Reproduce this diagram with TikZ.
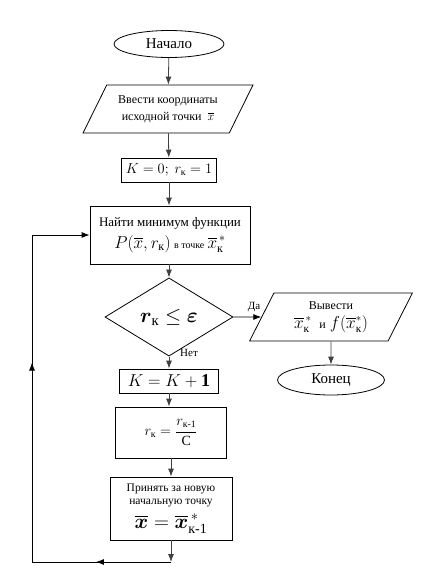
\documentclass[tikz,border=0pt]{standalone}
\usepackage{amsmath}
\usepackage{fontspec}
\setmainfont{Liberation Serif}
\usetikzlibrary{shapes.geometric,arrows.meta,decorations.markings}
\begin{document}
\begin{tikzpicture}[x=1pt,y=-1pt,
  base/.style={draw, line width=0.8pt, align=center, inner sep=1pt, font=\fontsize{12}{15}\selectfont},
  term/.style={base, ellipse, font=\fontsize{15}{17}\selectfont},
  proc/.style={base, rectangle},
  io/.style={base, trapezium, trapezium stretches=true},
  dec/.style={base, diamond},
  conn/.style={-{Latex[length=8pt,width=6pt]}, line width=0.8pt, draw=black!75},
  loopline/.style={line width=0.8pt, draw=black},
  lbl/.style={font=\fontsize{11}{13}\selectfont, inner sep=0pt}
]
\useasboundingbox (0,0) rectangle (435,573);

\node[term, minimum width=110pt, minimum height=27pt] (start) at (169,44) {Начало};
\node[io, minimum width=170pt, minimum height=48pt, trapezium left angle=56, trapezium right angle=124] (in) at (168,109)
  {Ввести координаты\\[2pt]исходной точки \ $\overline{x}$};
\node[proc, minimum width=95pt, minimum height=24pt, font=\fontsize{14}{16}\selectfont] (init) at (169,170)
  {$K=0;\ r_{\text{к}}=1$};
\node[proc, minimum width=160pt, minimum height=58pt, font=\fontsize{13}{15}\selectfont] (find) at (170,235)
  {Найти минимум функции\\[5pt]{\fontsize{17}{19}\selectfont$P(\overline{x},r_{\text{к}})$}\ {\fontsize{10}{12}\selectfont в точке}\ {\fontsize{17}{19}\selectfont$\overline{x}^{\,*}_{\text{к}}$}};
\node[dec, minimum width=128pt, minimum height=54pt, font=\fontsize{21}{23}\selectfont] (cond) at (169,317)
  {$\boldsymbol{r}_{\text{к}}\le\boldsymbol{\varepsilon}$};
\node[io, minimum width=163pt, minimum height=48pt, trapezium left angle=64, trapezium right angle=116] (out) at (331,317)
  {Вывести\\[4pt]{\fontsize{16}{18}\selectfont$\overline{x}^{\,*}_{\text{к}}$ \ {\fontsize{12}{14}\selectfont и} $f(\overline{x}^{*}_{\text{к}})$}};
\node[term, minimum width=107pt, minimum height=30pt] (end) at (331,380) {Конец};
\node[proc, minimum width=99pt, minimum height=24pt, font=\fontsize{18}{20}\selectfont] (inc) at (169,381)
  {$K=K+\mathbf{1}$};
\node[proc, minimum width=111pt, minimum height=51pt, font=\fontsize{14}{16}\selectfont] (rk) at (171,432.5)
  {$r_{\text{к}}=\dfrac{r_{\text{к-1}}}{\mathrm{C}}$};
\node[proc, minimum width=122pt, minimum height=63pt, font=\fontsize{11.5}{13}\selectfont] (take) at (171,508.5)
  {Принять за новую\\начальную точку\\[6pt]{\fontsize{20}{22}\selectfont$\overline{\boldsymbol{x}}=\overline{\boldsymbol{x}}^{\,*}_{\text{к-1}}$}};

\node[lbl] (yes) at (254,307) {Да};
\node[lbl] (no) at (189,353) {Нет};

\coordinate (c1) at (171,562);
\coordinate (c2) at (32,562);
\coordinate (c3) at (32,235);

\draw[conn] (start) -- (in);
\draw[conn] (in) -- (init);
\draw[conn] (init) -- (find.north -| init);
\draw[conn] (find.south -| cond) -- (cond);
\draw[conn, draw=black] (cond) -- (out);
\draw[conn] (out) -- (end);
\draw[conn] (cond) -- (inc);
\draw[conn] (inc) -- (rk.north -| inc);
\draw[conn] (rk) -- (take);
\draw[conn] (take) -- (c1);
\draw[loopline, postaction={decorate}, decoration={markings, mark=at position 0.54 with {\arrow{Latex[length=8pt,width=6pt]}}}] (c1) -- (c2);
\draw[loopline, postaction={decorate}, decoration={markings, mark=at position 0.61 with {\arrow{Latex[length=8pt,width=6pt]}}}] (c2) -- (c3);
\draw[conn, draw=black] (c3) -- (find);
\end{tikzpicture}
\end{document}
